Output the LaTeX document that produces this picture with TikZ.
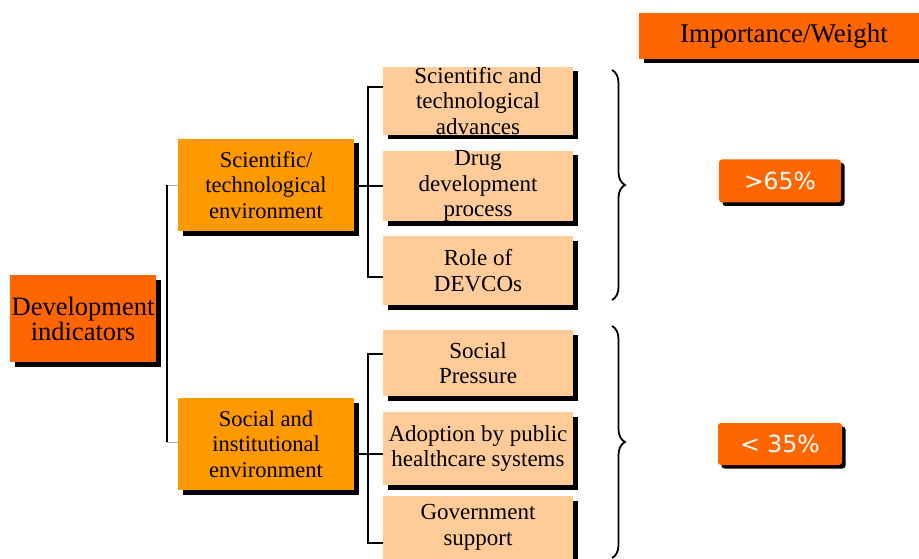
\documentclass[tikz,border=0pt]{standalone}
\usepackage{fontspec}
\setmainfont{Liberation Serif}
\newfontfamily\pctfont{DejaVu Sans}
\usetikzlibrary{shadows,decorations.pathreplacing}
\definecolor{dorange}{HTML}{FF6600}
\definecolor{morange}{HTML}{FF9900}
\definecolor{peach}{HTML}{FFCC99}
\begin{document}
\begin{tikzpicture}[x=1pt,y=-1pt,
 shad/.style={drop shadow={shadow xshift=4.5pt,shadow yshift=-4.5pt,fill=black,opacity=1}},
 box/.style={shad, rectangle, inner sep=0pt, align=center, text=black},
 devbox/.style={box, fill=dorange, minimum width=146pt, minimum height=87pt, font=\fontsize{26.5}{25}\selectfont},
 envbox/.style={box, fill=morange, minimum width=176pt, minimum height=92pt, font=\fontsize{22.5}{25.5}\selectfont},
 subbox/.style={box, fill=peach, minimum width=190pt, font=\fontsize{23}{25.5}\selectfont},
 pct/.style={drop shadow={shadow xshift=3.5pt,shadow yshift=-3.5pt,fill=black,opacity=1}, fill=dorange, rounded corners=3pt, inner sep=0pt, minimum width=122pt, minimum height=43pt, text=white, font=\pctfont\fontsize{23.5}{25}\selectfont},
 conn/.style={line width=1.6pt, black},
 thinconn/.style={line width=0.8pt, black!35},
 brc/.style={decorate, decoration={brace, amplitude=13pt}, line width=1.8pt}
]
\useasboundingbox[fill=white] (0,0) rectangle (919,559);

\coordinate (lx) at (167,0);
\coordinate (rx) at (368,0);

\node[devbox] (dev) at (83,318.5) {Development\\indicators};
\node[envbox] (sci) at (266,185) {Scientific/\\technological\\environment};
\node[envbox] (soc) at (266,444) {Social and\\institutional\\environment};

\node[subbox, minimum height=68pt] (a1) at (478,101) {Scientific and\\technological\\advances};
\node[subbox, minimum height=70pt] (a2) at (478,186) {Drug\\development\\process};
\node[subbox, minimum height=69pt] (a3) at (478,270.5) {Role of\\DEVCOs};
\node[subbox, minimum height=66pt] (b1) at (478,363) {Social\\Pressure};
\node[subbox, minimum height=73pt] (b2) at (478,448.5) {Adoption by public\\healthcare systems};
\node[subbox, minimum height=63pt] (b3) at (478,527.5) {Government\\support};

\node[box, fill=dorange, minimum width=290pt, minimum height=46pt, font=\fontsize{27}{28}\selectfont] (imp) at (784,36) {Importance/Weight};

\node[pct] (p1) at (780,181) {>65\%};
\node[pct, minimum width=124pt, minimum height=42pt] (p2) at (780,444) {< 35\%};

% left tree
\draw[thinconn] (sci.west) -- (sci.west -| lx);
\draw[thinconn] ([yshift=2pt]soc.west) -- ([yshift=2pt]soc.west -| lx);
\draw[conn] (sci.west -| lx) -- ([yshift=2pt]soc.west -| lx);

% upper right tree
\draw[conn] ([xshift=4.5pt,yshift=-1pt]sci.east) -- ([yshift=-1pt]sci.east -| a2.west);
\draw[conn] ([yshift=14pt]a1.west) -| (rx |- a3.west) -- ++(0,6.5) -- ([yshift=-6.5pt]a3.west);

% lower right tree
\draw[conn] ([xshift=4.5pt,yshift=-10pt]soc.east) -- ([yshift=-10pt]soc.east -| b2.west);
\draw[conn] ([yshift=9pt]b1.west) -| (rx |- b3.west) -- ++(0,15.5) -- ([yshift=-15.5pt]b3.west);

% braces
\coordinate (u1) at (612,70);
\coordinate (u2) at (612,300);
\coordinate (l1) at (612,326);
\coordinate (l2) at (612,558);
\draw[brc] (u1) -- (u2);
\draw[brc] (l1) -- (l2);
\end{tikzpicture}
\end{document}
